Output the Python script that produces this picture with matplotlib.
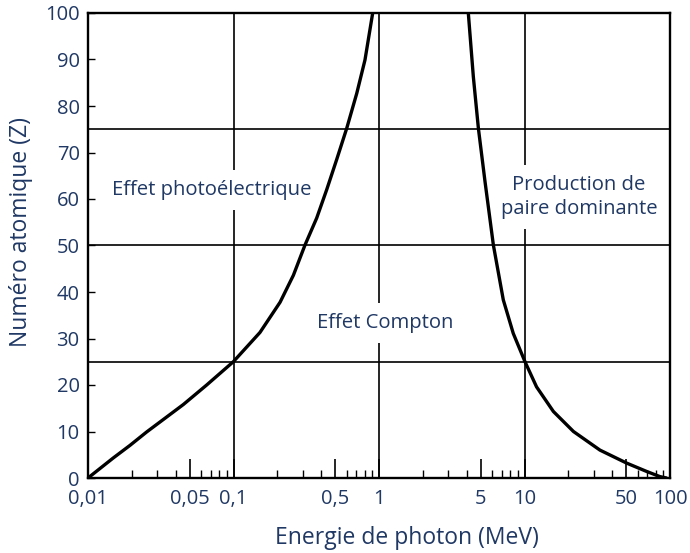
import matplotlib
matplotlib.use("Agg")
import matplotlib.pyplot as plt
from matplotlib.ticker import FixedLocator, FixedFormatter, NullFormatter

# photoelectric / Compton boundary (energy in MeV, atomic number Z)
photo_E = [0.01, 0.0149, 0.0194, 0.0253, 0.033, 0.0452, 0.0654, 0.0997, 0.152, 0.209,
           0.258, 0.310, 0.373, 0.437, 0.512, 0.600, 0.703, 0.801, 0.905]
photo_Z = [0.0, 4.3, 7.0, 9.9, 12.6, 15.8, 20.0, 25.0, 31.3, 37.8,
           43.6, 50.1, 55.9, 62.0, 68.5, 75.2, 82.7, 89.9, 100.0]

# Compton / pair production boundary
pair_E = [4.11, 4.45, 4.82, 5.35, 6.11, 7.15, 8.37, 10.08, 12.1, 15.8,
          21.7, 33.0, 50.4, 69.2, 85.3, 93.0]
pair_Z = [100.0, 86.3, 75.2, 63.8, 50.1, 38.3, 31.1, 25.0, 19.6, 14.3,
          10.0, 6.0, 3.2, 1.4, 0.3, 0.05]

grid_E = [0.1, 1, 10]
grid_Z = [25, 50, 75]

xtick_vals = [0.01, 0.05, 0.1, 0.5, 1, 5, 10, 50, 100]
xtick_labels = ["0,01", "0,05", "0,1", "0,5", "1", "5", "10", "50", "100"]
xminor_vals = [d * m for d in [0.01, 0.1, 1, 10] for m in [2, 3, 4, 6, 7, 8, 9]]
ytick_vals = list(range(0, 101, 10))

navy = "#1f3864"
plt.rcParams["font.family"] = ["Open Sans", "DejaVu Sans"]

fig = plt.figure(figsize=(6.9, 5.53), dpi=100)
ax = fig.add_axes([88 / 690, 1 - 478 / 553, 582 / 690, 465 / 553])
ax.set_xscale("log")
ax.set_xlim(0.01, 100)
ax.set_ylim(0, 100)

for e in grid_E:
    ax.axvline(e, color="black", lw=1.2, zorder=1)
for z in grid_Z:
    ax.axhline(z, color="black", lw=1.2, zorder=1)

ax.plot(photo_E, photo_Z, color="black", lw=2.4, zorder=4, solid_joinstyle="round")
ax.plot(pair_E, pair_Z, color="black", lw=2.4, zorder=4, solid_joinstyle="round")

box = dict(facecolor="white", edgecolor="none", pad=7)
ax.text(0.071, 61.9, "Effet photoélectrique", color=navy, fontsize=14.6,
        ha="center", va="center", bbox=box, zorder=3)
ax.text(1.11, 33.3, "Effet Compton", color=navy, fontsize=14.6,
        ha="center", va="center", bbox=box, zorder=3)
ax.text(23.7, 60.4, "Production de\npaire dominante", color=navy, fontsize=14.6,
        ha="center", va="center", bbox=box, zorder=3, linespacing=1.3)

ax.xaxis.set_major_locator(FixedLocator(xtick_vals))
ax.xaxis.set_major_formatter(FixedFormatter(xtick_labels))
ax.xaxis.set_minor_locator(FixedLocator(xminor_vals))
ax.xaxis.set_minor_formatter(NullFormatter())
ax.set_yticks(ytick_vals)

ax.tick_params(axis="x", which="major", direction="in", length=14, width=1.2,
               labelsize=14.5, labelcolor=navy, pad=8)
ax.tick_params(axis="x", which="minor", direction="in", length=5.5, width=1.0)
ax.tick_params(axis="y", which="major", direction="in", length=5, width=1.0,
               labelsize=14.5, labelcolor=navy, pad=6)
ax.tick_params(top=False, right=False)

for s in ax.spines.values():
    s.set_linewidth(1.7)

ax.set_xlabel("Energie de photon (MeV)", color=navy, fontsize=16.5)
ax.set_ylabel("Numéro atomique (Z)", color=navy, fontsize=16.5)
ax.xaxis.set_label_coords(0.548, -0.103)
ax.yaxis.set_label_coords(-0.094, 0.529)

fig.savefig("out.png", dpi=100, facecolor="white")
